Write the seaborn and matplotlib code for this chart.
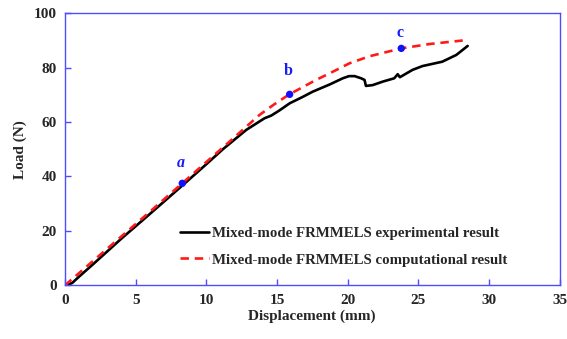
import numpy as np
import pandas as pd
import matplotlib
matplotlib.use("Agg")
import matplotlib.pyplot as plt
import seaborn as sns

# Experimental curve (black)
exp_x = [0, 0.5, 1, 2, 4, 6, 8.2, 10, 11.17, 12.82, 14.12, 14.6, 15.18, 15.9, 16.8, 17.54,
         18.72, 19.66, 20.1, 20.5, 20.96, 21.2, 21.3, 21.78, 22.5, 23.3, 23.55, 23.7,
         24.6, 25.3, 26.7, 27.7, 28.5]
exp_y = [0, 0.8, 3.2, 7.8, 17.2, 26.2, 36.2, 44.5, 50, 57.1, 61.4, 62.4, 64.3, 66.9, 69.2, 71.2,
         73.8, 76.1, 76.9, 76.9, 76.1, 75.5, 73.3, 73.6, 74.9, 76.1, 77.6, 76.5,
         79.2, 80.6, 82.2, 84.7, 88.0]

# Computational curve (red dashed)
comp_x = [0, 2, 4, 6, 8.3, 10, 11.64, 13.76, 14.8, 15.88, 17.77, 18.72, 20.13, 21.55,
          23.8, 25.8, 28.15]
comp_y = [0, 9, 18, 27, 37.5, 45.3, 52.8, 62.6, 66.5, 70.2, 75.5, 77.9, 81.6, 84.2,
          87.1, 88.7, 90]

# Marked points
pt_labels = ["a", "b", "c"]
pt_x = [8.3, 15.9, 23.8]
pt_y = [37.5, 70.2, 87.1]

exp_label = "Mixed-mode FRMMELS experimental result"
comp_label = "Mixed-mode FRMMELS computational result"

sns.set_theme(style="white")
plt.rcParams["font.family"] = ["Liberation Serif", "DejaVu Serif"]
plt.rcParams["font.weight"] = "bold"

FS = 11
LFS = 10.7

fig = plt.figure(figsize=(5.67, 3.39), dpi=100)
ax = fig.add_axes([0.1146, 0.1584, 0.8722, 0.8024])

df_exp = pd.DataFrame({"x": exp_x, "y": exp_y})
df_comp = pd.DataFrame({"x": comp_x, "y": comp_y})
sns.lineplot(data=df_exp, x="x", y="y", ax=ax, color="black", lw=1.9,
             label=exp_label, sort=False)
sns.lineplot(data=df_comp, x="x", y="y", ax=ax, color="#ff1a1a", lw=1.9,
             linestyle=(0, (3.2, 2.2)), label=comp_label, sort=False)
df_pt = pd.DataFrame({"x": pt_x, "y": pt_y})
sns.scatterplot(data=df_pt, x="x", y="y", ax=ax, color="#1010ff", s=28,
                edgecolor="none", zorder=5, legend=False)

offsets = [7.4, 8.4, 5.5]
for lab, x, y, dy in zip(pt_labels, pt_x, pt_y, offsets):
    ax.text(x - 0.1, y + dy, lab, color="#1a1aff", fontsize=FS + 0.5, fontweight="bold",
            style="italic" if lab == "a" else "normal", ha="center", va="center")

ax.set_xlim(0, 35)
ax.set_ylim(0, 100)
ax.set_xticks(range(0, 36, 5))
ax.set_yticks(range(0, 101, 20))
ax.set_xlabel("Displacement (mm)", fontsize=FS, fontweight="bold", labelpad=2)
ax.set_ylabel("Load (N)", fontsize=FS, fontweight="bold", labelpad=5)
spine_c = "#4d4dff"
for s in ax.spines.values():
    s.set_color(spine_c)
    s.set_linewidth(1.0)
ax.tick_params(axis="both", which="both", direction="in", length=4, width=1,
               color=spine_c, labelsize=FS, bottom=True, left=True,
               top=False, right=False, pad=6)
for t in ax.get_xticklabels() + ax.get_yticklabels():
    t.set_fontweight("bold")

leg = ax.legend(loc="upper left", bbox_to_anchor=(0.22, 0.2375), frameon=False,
                fontsize=LFS, handlelength=2.0, handletextpad=0.2,
                labelspacing=0.88, borderaxespad=0)
for t in leg.get_texts():
    t.set_fontweight("bold")

fig.savefig("out.png", dpi=100)
